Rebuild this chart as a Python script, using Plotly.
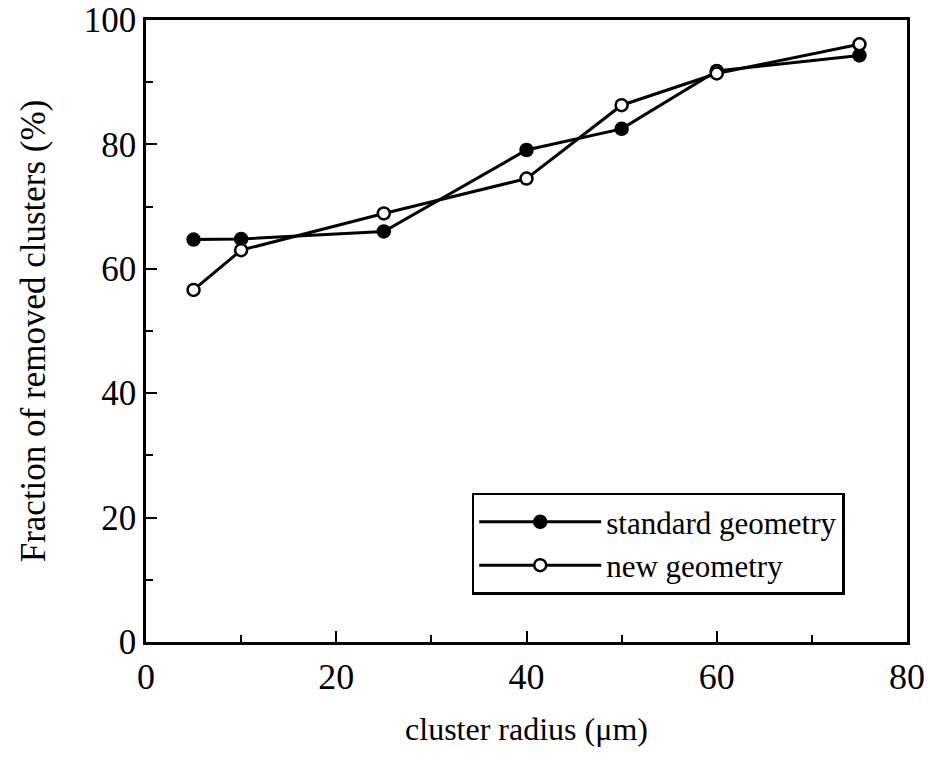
import plotly.graph_objects as go

radius = [5, 10, 25, 40, 50, 60, 75]
standard = [64.7, 64.8, 66.0, 79.1, 82.5, 91.8, 94.3]
new = [56.6, 63.0, 68.9, 74.5, 86.3, 91.4, 96.1]

FONT = "Liberation Serif"

fig = go.Figure()
fig.add_trace(go.Scatter(
    x=radius, y=standard, mode="lines+markers", name="standard geometry",
    line=dict(color="black", width=3),
    marker=dict(symbol="circle", size=13, color="black", line=dict(color="black", width=1.5)),
))
fig.add_trace(go.Scatter(
    x=radius, y=new, mode="lines+markers", name="new geometry",
    line=dict(color="black", width=3),
    marker=dict(symbol="circle", size=12, color="white", line=dict(color="black", width=2.5)),
))

fig.update_layout(
    width=932, height=760,
    margin=dict(l=146, r=25, t=20, b=118, autoexpand=False),
    paper_bgcolor="white", plot_bgcolor="white",
    font=dict(family=FONT, color="black"),
    showlegend=True,
    legend=dict(
        x=0.428, y=0.24, xanchor="left", yanchor="top",
        bgcolor="white", bordercolor="black", borderwidth=2.5,
        font=dict(family=FONT, size=31, color="black"),
        itemwidth=122, tracegroupgap=0,
    ),
    xaxis=dict(
        range=[0, 80], tickvals=[0, 20, 40, 60, 80], automargin=False,
        ticks="inside", ticklen=11, tickwidth=2, tickcolor="black",
        showline=True, linecolor="black", linewidth=2.5, mirror=True,
        showgrid=False, zeroline=False, ticklabeloverflow="allow",
        ticklabelstandoff=1,
        tickfont=dict(family=FONT, size=36, color="black"),
        minor=dict(tickvals=[10, 30, 50, 70], ticks="inside", ticklen=7, tickwidth=2, tickcolor="black", showgrid=False),
        title=dict(text="cluster radius (μm)", font=dict(family=FONT, size=32, color="black"), standoff=22),
    ),
    yaxis=dict(
        range=[0, 100], tickvals=[0, 20, 40, 60, 80, 100], automargin=False,
        ticks="inside", ticklen=11, tickwidth=2, tickcolor="black",
        showline=True, linecolor="black", linewidth=2.5, mirror=True,
        showgrid=False, zeroline=False, ticklabeloverflow="allow",
        tickfont=dict(family=FONT, size=35, color="black"),
        minor=dict(tickvals=[10, 30, 50, 70, 90], ticks="inside", ticklen=7, tickwidth=2, tickcolor="black", showgrid=False),
        title=dict(text="Fraction of removed clusters (%)", font=dict(family=FONT, size=35, color="black"), standoff=28),
    ),
)

fig.write_html("out.html")
